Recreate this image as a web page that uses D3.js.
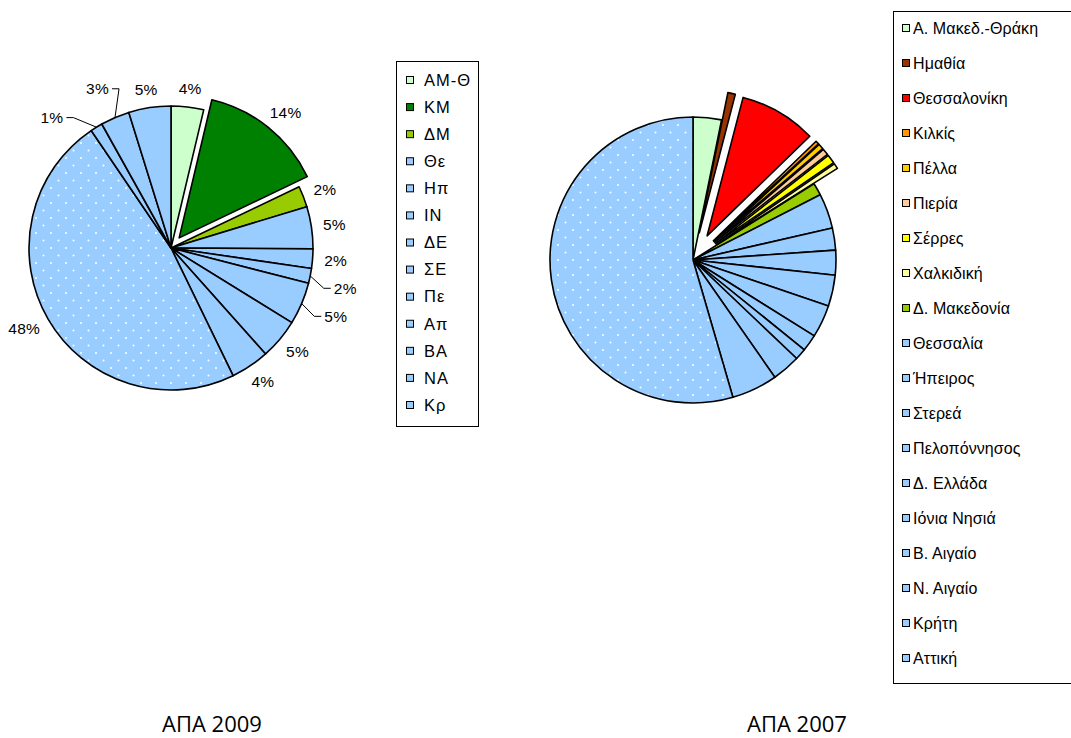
<!DOCTYPE html>
<html>
<head>
<meta charset="utf-8">
<script src="https://cdn.jsdelivr.net/npm/d3@7"></script>
<style>
  body { margin: 0; background: #fff; }
  svg text { font-family: "Liberation Sans", Arial, sans-serif; fill: #000; }
  svg text.title { font-family: "Open Sans", "Noto Sans", sans-serif; }
</style>
</head>
<body>
<div id="chart"></div>
<script>

// ΑΠΑ 2009 (percent of total)
var names2009 = ["ΑΜ-Θ", "ΚΜ", "ΔΜ", "Θε", "Ηπ", "ΙΝ", "ΔΕ", "ΣΕ", "Πε", "Απ", "ΒΑ", "ΝΑ", "Κρ"];
var values2009 = [3.7, 14.2, 2.4, 4.8, 2.2, 1.7, 4.8, 4.6, 4.4, 47.7, 1.4, 3.3, 4.8];
var exploded2009 = ["ΚΜ"];

// ΑΠΑ 2007 (percent of total)
var names2007 = ["Α. Μακεδ.-Θράκη", "Ημαθία", "Θεσσαλονίκη", "Κιλκίς", "Πέλλα", "Πιερία", "Σέρρες",
                 "Χαλκιδική", "Δ. Μακεδονία", "Θεσσαλία", "Ήπειρος", "Στερεά", "Πελοπόννησος",
                 "Δ. Ελλάδα", "Ιόνια Νησιά", "Β. Αιγαίο", "Ν. Αιγαίο", "Κρήτη", "Αττική"];
var values2007 = [3.2, 0.85, 8.7, 0.4, 0.6, 0.7, 1.0, 0.6, 1.4, 3.95, 2.5, 2.8, 3.5, 3.7, 1.9, 1.3, 3.2, 5.2, 54.5];
var exploded2007 = ["Ημαθία", "Θεσσαλονίκη", "Κιλκίς", "Πέλλα", "Πιερία", "Σέρρες", "Χαλκιδική"];

var titles = ["ΑΠΑ 2009", "ΑΠΑ 2007"];

// colours (Excel 2003 palette)
var blue = "#99CCFF";
var color2009 = d3.scaleOrdinal().domain(names2009)
    .range(["#CCFFCC", "#008000", "#99CC00", blue, blue, blue, blue, blue, blue, "url(#dots)", blue, blue, blue]);
var color2007 = d3.scaleOrdinal().domain(names2007)
    .range(["#CCFFCC", "#993300", "#FF0000", "#FF9900", "#FFCC00", "#FFCC99", "#FFFF00", "#FFFF99", "#99CC00",
            blue, blue, blue, blue, blue, blue, blue, blue, blue, "url(#dots)"]);

var width = 1071, height = 738;

var svg = d3.select("#chart").append("svg")
    .attr("width", width)
    .attr("height", height);

// dotted fill used for Attica
var pat = svg.append("defs").append("pattern")
    .attr("id", "dots")
    .attr("patternUnits", "userSpaceOnUse")
    .attr("width", 15)
    .attr("height", 15);
pat.append("rect").attr("width", 15).attr("height", 15).attr("fill", blue);
pat.selectAll("circle")
    .data([[0, 0], [15, 0], [0, 15], [15, 15], [7.5, 7.5]])
  .enter().append("circle")
    .attr("cx", d => d[0]).attr("cy", d => d[1])
    .attr("r", 1).attr("fill", "#fff");

// Builds one pie
function drawPie(cx, cy, r, names, values, exploded, color, explodeDist, withLabels) {

  var g = svg.append("g").attr("transform", "translate(" + cx + "," + cy + ")");
  var data = names.map((n, i) => ({ name: n, value: values[i] }));
  var pie = d3.pie().sort(null).value(d => d.value);
  var arc = d3.arc().innerRadius(0).outerRadius(r);
  var slices = pie(data);

  var offset = d => exploded.indexOf(d.data.name) >= 0 ? explodeDist : 0;
  var mid = d => (d.startAngle + d.endAngle) / 2;

  g.selectAll("path.slice")
      .data(slices)
    .enter().append("path")
      .attr("class", "slice")
      .attr("d", arc)
      .attr("transform", d => "translate(" + Math.sin(mid(d)) * offset(d) + "," + (-Math.cos(mid(d)) * offset(d)) + ")")
      .attr("fill", d => color(d.data.name))
      .attr("stroke", "#000")
      .attr("stroke-width", 1.6)
      .attr("stroke-linejoin", "round");

  if (!withLabels) return;

  // percent labels, Excel style "best fit": push overlapping ones away and add leader lines
  var gap = 11.6, leaderExtra = 14, padX = 24, padY = 14, h = 14;
  var labels = slices.map(d => {
    var t = g.append("text")
        .attr("text-anchor", "middle")
        .attr("dy", "0.35em")
        .style("font-size", "15.5px")
        .style("letter-spacing", "0.3px")
        .text(d3.format(".0f")((d.endAngle - d.startAngle) / (2 * Math.PI) * 100) + "%");
    return { d: d, t: t, w: t.node().getComputedTextLength(), mid: mid(d), off: offset(d) };
  });

  function setPos(L, a, extra) {
    var rr = r + L.off + gap + extra;
    L.x = Math.sin(a) * rr + Math.sin(a) * L.w / 2;
    L.y = -Math.cos(a) * rr - Math.cos(a) * h / 2;
  }
  function hits(L, placed) {
    return placed.some(p => Math.abs(L.x - p.x) < (L.w + p.w) / 2 + padX && Math.abs(L.y - p.y) < h + padY);
  }

  var right = labels.filter(L => L.mid < Math.PI).sort((a, b) => a.mid - b.mid);
  var left = labels.filter(L => L.mid >= Math.PI).sort((a, b) => b.mid - a.mid);

  [[right, 1], [left, -1]].forEach(group => {
    var placed = [];
    group[0].forEach(L => {
      var a = L.mid, extra = 0, n = 0;
      setPos(L, a, 0);
      while (hits(L, placed) && n < 90) {
        if (extra === 0) extra = leaderExtra;
        else a += group[1] * Math.PI / 180;
        setPos(L, a, extra);
        n++;
      }
      L.moved = extra > 0;
      placed.push(L);
    });
  });

  labels.forEach(L => {
    L.t.attr("x", L.x).attr("y", L.y);
    if (L.moved) {
      var s = L.x >= 0 ? 1 : -1;
      var ex = Math.sin(L.mid) * (r + L.off), ey = -Math.cos(L.mid) * (r + L.off);
      g.append("polyline")
          .attr("points", [[ex, ey], [L.x - s * (L.w / 2 + 10), L.y], [L.x - s * (L.w / 2 + 3), L.y]].join(" "))
          .attr("fill", "none")
          .attr("stroke", "#000")
          .attr("stroke-width", 1);
    }
  });
}

// Builds a legend box
function drawLegend(x, y, w, h, y0, y1, names, color, swatchX, textX, fontSize, spacing) {
  var g = svg.append("g");
  g.append("rect")
      .attr("x", x).attr("y", y)
      .attr("width", w).attr("height", h)
      .attr("fill", "#fff").attr("stroke", "#000").attr("stroke-width", 1);

  var yScale = d3.scalePoint().domain(names).range([y0, y1]);

  var item = g.selectAll("g.item")
      .data(names)
    .enter().append("g")
      .attr("class", "item")
      .attr("transform", d => "translate(" + (x + swatchX) + "," + yScale(d) + ")");
  item.append("rect")
      .attr("x", 0).attr("y", -3.5)
      .attr("width", 7).attr("height", 7)
      .attr("fill", d => color(d))
      .attr("stroke", "#000").attr("stroke-width", 1);
  item.append("text")
      .attr("x", textX)
      .attr("dy", "0.35em")
      .style("font-size", fontSize + "px")
      .style("letter-spacing", spacing + "px")
      .text(d => d);
}

drawPie(171, 248, 142, names2009, values2009, exploded2009, color2009, 13, true);
drawPie(693, 260, 143, names2007, values2007, exploded2007, color2007, 28, false);

drawLegend(396.5, 61.5, 82, 365, 80, 405, names2009, color2009, 10, 17.5, 16.5, 1);
drawLegend(893.5, 11.5, 200, 672, 28, 658, names2007, color2007, 9, 10.5, 16, 0.1);

// titles under the charts
svg.selectAll("text.title")
    .data(titles)
  .enter().append("text")
    .attr("class", "title")
    .attr("x", (d, i) => i === 0 ? 212 : 797)
    .attr("y", 732)
    .attr("text-anchor", "middle")
    .style("font-size", "22px")
    .text(d => d);

</script>
</body>
</html>
